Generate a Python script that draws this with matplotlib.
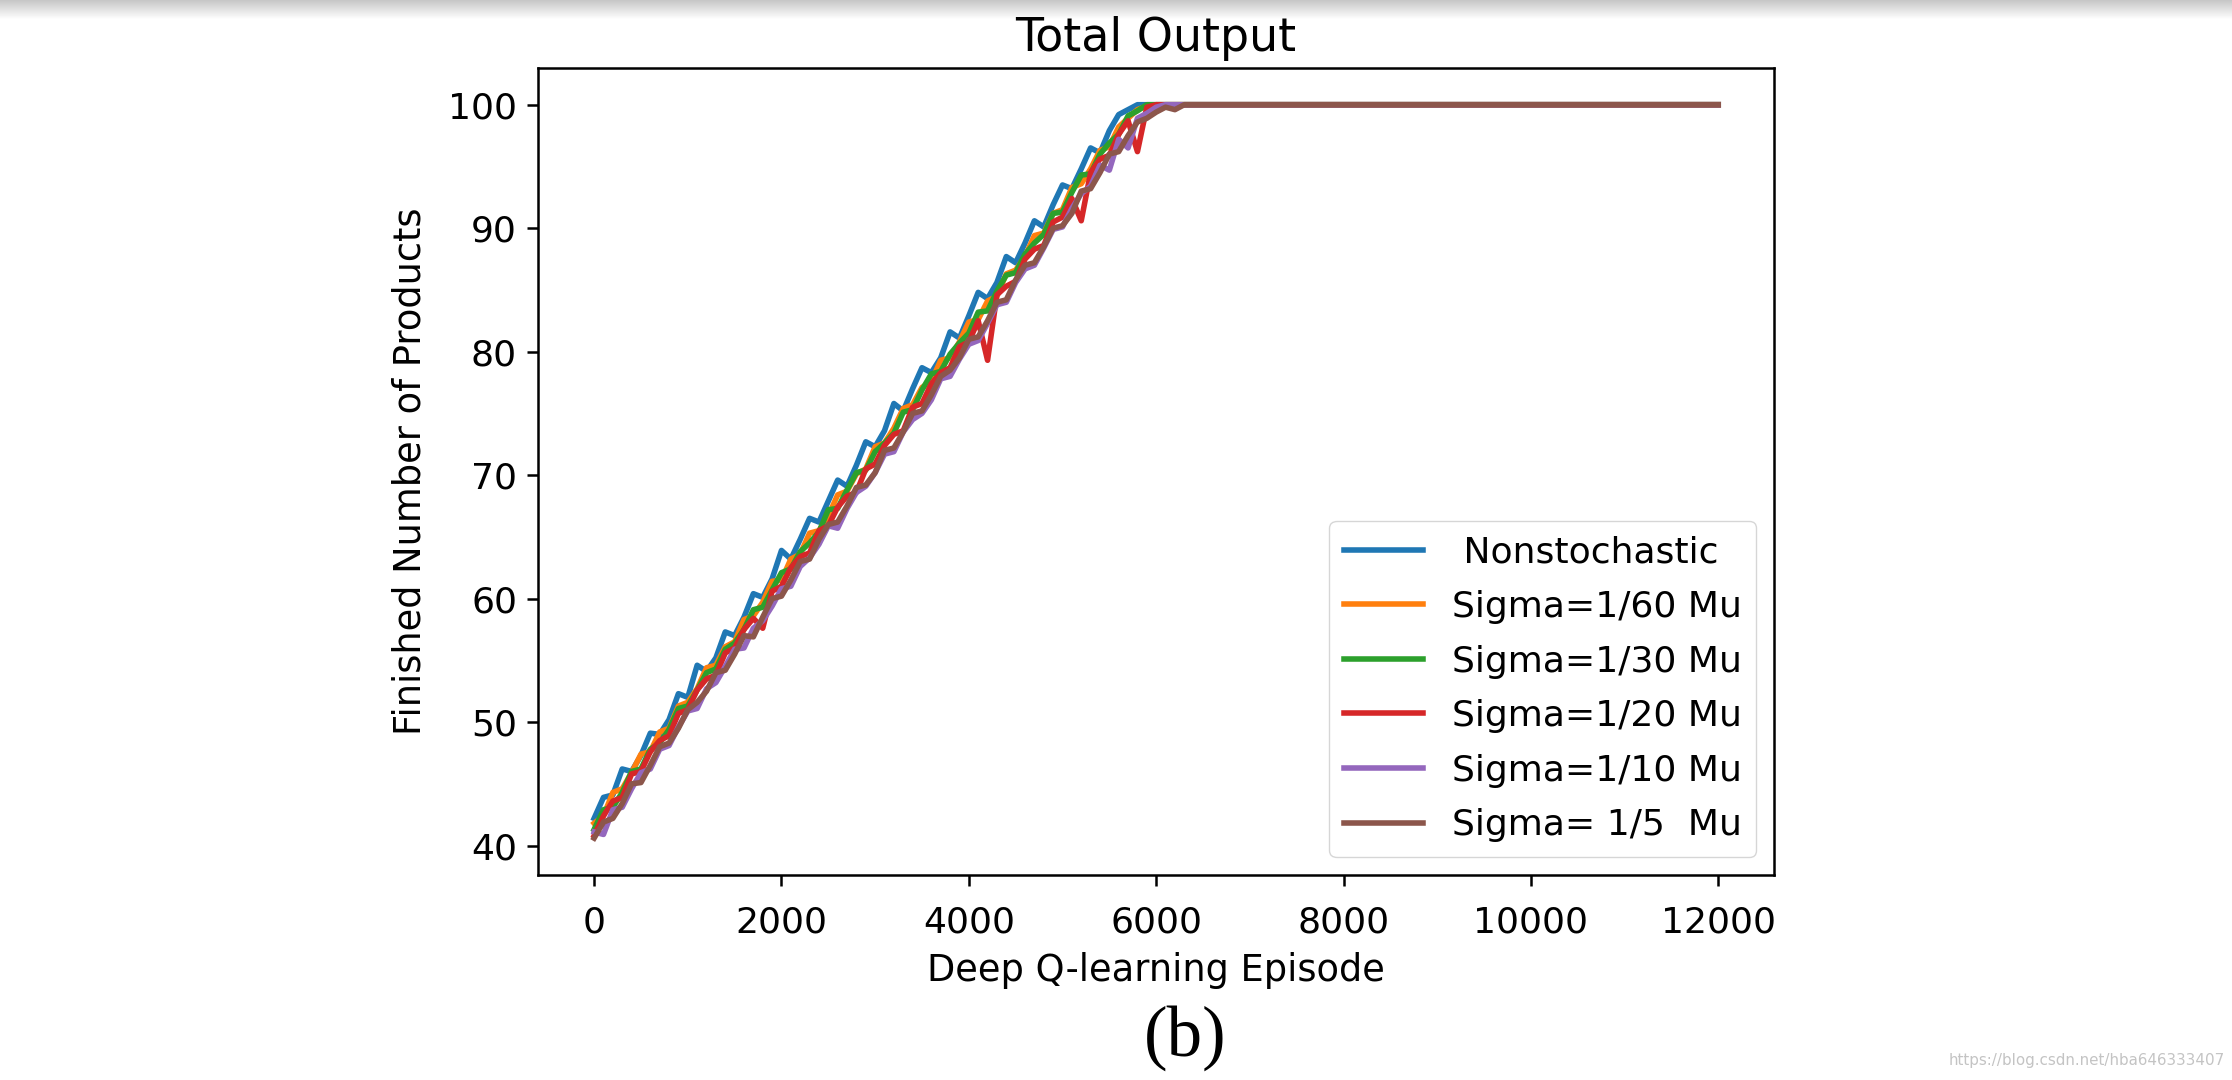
import numpy as np
import matplotlib
matplotlib.use('Agg')
import matplotlib.pyplot as plt

# episodes sampled every 100 up to 6300, then the flat tail to 12000
episodes = [0, 100, 200, 300, 400, 500, 600, 700, 800, 900,
            1000, 1100, 1200, 1300, 1400, 1500, 1600, 1700, 1800, 1900,
            2000, 2100, 2200, 2300, 2400, 2500, 2600, 2700, 2800, 2900,
            3000, 3100, 3200, 3300, 3400, 3500, 3600, 3700, 3800, 3900,
            4000, 4100, 4200, 4300, 4400, 4500, 4600, 4700, 4800, 4900,
            5000, 5100, 5200, 5300, 5400, 5500, 5600, 5700, 5800, 5900,
            6000, 6100, 6200, 6300, 12000]

nonstochastic = [42.2, 43.9, 44.1, 46.2, 46.0, 47.3, 49.1, 49.0, 50.2, 52.3,
                 52.0, 54.6, 54.1, 55.2, 57.3, 57.0, 58.5, 60.4, 60.1, 61.6,
                 63.9, 63.2, 64.8, 66.5, 66.2, 67.9, 69.6, 69.1, 70.8, 72.7,
                 72.3, 73.6, 75.8, 75.2, 77.0, 78.7, 78.3, 79.5, 81.6, 81.1,
                 82.9, 84.8, 84.3, 85.6, 87.7, 87.2, 88.8, 90.6, 90.1, 91.9,
                 93.5, 93.2, 94.8, 96.5, 96.1, 97.9, 99.2, 99.6, 100, 100,
                 100, 100, 100, 100, 100]
sigma_60 = [41.8, 42.4, 44.3, 44.6, 45.9, 47.4, 47.6, 49.2, 49.5, 51.3,
            51.6, 52.7, 54.4, 54.6, 56.1, 56.5, 58.3, 58.6, 59.7, 61.4,
            61.5, 63.2, 63.6, 65.3, 65.5, 66.7, 68.4, 68.7, 70.1, 70.5,
            72.3, 72.6, 73.8, 75.4, 75.7, 77.1, 77.6, 79.3, 79.5, 80.8,
            82.4, 82.6, 84.1, 84.5, 86.3, 86.6, 87.7, 89.4, 89.6, 91.2,
            91.5, 93.3, 93.6, 94.8, 96.3, 96.6, 98.2, 98.9, 99.6, 99.9,
            100, 100, 100, 100, 100]
sigma_30 = [41.3, 42.9, 43.1, 44.3, 46.0, 46.2, 47.8, 48.3, 49.4, 51.1,
            51.3, 52.6, 54.0, 54.3, 55.9, 56.4, 57.5, 59.1, 59.3, 60.7,
            62.1, 62.4, 63.8, 64.5, 65.4, 67.2, 67.3, 68.8, 70.2, 70.4,
            71.9, 72.6, 73.4, 75.1, 75.3, 76.9, 78.2, 78.4, 79.8, 80.7,
            81.5, 83.2, 83.3, 84.9, 86.2, 86.4, 87.9, 88.8, 89.5, 91.2,
            91.3, 92.9, 94.3, 94.4, 96.0, 96.9, 97.6, 99.1, 99.5, 100,
            100, 100, 100, 100, 100]
sigma_20 = [40.8, 42.4, 43.6, 43.9, 45.8, 46.0, 47.6, 48.5, 48.9, 50.7,
            51.0, 52.6, 53.5, 53.8, 55.6, 56.0, 57.5, 58.4, 57.6, 60.6,
            61.0, 62.5, 63.4, 63.7, 65.5, 65.9, 67.4, 68.3, 68.6, 70.5,
            70.9, 72.4, 73.3, 73.6, 75.5, 75.8, 77.4, 78.3, 78.7, 80.4,
            80.8, 82.5, 79.3, 84.6, 85.3, 85.7, 87.5, 88.3, 88.6, 90.5,
            90.9, 92.4, 90.6, 94.5, 95.6, 95.9, 97.6, 98.7, 96.2, 99.8,
            100, 100, 100, 100, 100]
sigma_10 = [41.1, 40.9, 42.9, 43.1, 44.6, 45.9, 46.2, 47.8, 48.1, 49.6,
            50.9, 51.1, 52.7, 53.2, 54.5, 55.9, 56.0, 57.6, 58.2, 59.4,
            60.8, 61.0, 62.6, 63.3, 64.4, 65.9, 65.7, 67.3, 68.6, 69.1,
            70.2, 71.7, 71.9, 73.5, 74.5, 75.0, 76.1, 77.8, 78.0, 79.4,
            80.6, 80.9, 82.3, 83.8, 84.0, 85.6, 86.7, 87.0, 88.4, 89.9,
            90.1, 91.6, 92.8, 93.4, 95.1, 94.7, 97.2, 96.5, 98.9, 99.3,
            99.8, 100, 100, 100, 100]
sigma_5 = [40.6, 41.9, 42.2, 43.4, 45.0, 45.1, 46.5, 48.0, 48.3, 49.5,
           51.0, 51.6, 52.5, 54.0, 54.2, 55.5, 57.0, 56.9, 58.5, 60.0,
           60.2, 61.5, 63.0, 63.2, 64.8, 66.0, 66.2, 67.5, 69.0, 69.2,
           70.2, 72.0, 72.2, 73.5, 75.0, 75.2, 76.5, 78.0, 78.5, 79.5,
           81.0, 81.2, 82.5, 84.0, 84.2, 85.8, 87.0, 87.2, 88.5, 90.0,
           90.2, 91.2, 93.0, 93.2, 94.5, 96.0, 96.2, 97.5, 98.6, 98.9,
           99.4, 99.8, 99.6, 100, 100]

series = [nonstochastic, sigma_60, sigma_30, sigma_20, sigma_10, sigma_5]
labels = [' Nonstochastic', 'Sigma=1/60 Mu', 'Sigma=1/30 Mu',
          'Sigma=1/20 Mu', 'Sigma=1/10 Mu', 'Sigma= 1/5  Mu']

plt.rcParams['font.family'] = 'DejaVu Sans'

fig = plt.figure(figsize=(22.32, 10.8), dpi=100)

# grey shadow band along the top edge
band = fig.add_axes([0, 1 - 20 / 1080, 1, 20 / 1080])
band.imshow(np.linspace(0.78, 1.0, 20).reshape(-1, 1), cmap='gray', vmin=0, vmax=1,
            aspect='auto', extent=[0, 1, 0, 1])
band.axis('off')

ax = fig.add_axes([0.241, 0.190, 0.554, 0.747])
for vals, lab in zip(series, labels):
    ax.plot(episodes, vals, linewidth=4, label=lab)

ax.set_title('Total Output', fontsize=33, pad=12)
ax.set_xlabel('Deep Q-learning Episode', fontsize=26.5, labelpad=9)
ax.set_ylabel('Finished Number of Products', fontsize=26.5, labelpad=14)
ax.set_xticks([0, 2000, 4000, 6000, 8000, 10000, 12000])
ax.set_yticks([40, 50, 60, 70, 80, 90, 100])
ax.tick_params(labelsize=26, length=8, width=1.8)
ax.tick_params(axis='x', pad=14)
ax.tick_params(axis='y', pad=7)
for sp in ax.spines.values():
    sp.set_linewidth(1.8)

leg = ax.legend(loc='lower right', fontsize=26, handlelength=2.2,
                labelspacing=0.57, borderaxespad=0.5)
for line in leg.get_lines():
    line.set_linewidth(4)

fig.text(0.531, 0.039, '(b)', fontsize=51, family='Liberation Serif',
         ha='center', va='center')
fig.text(0.997, 0.018, 'https://blog.csdn.net/hba646333407', fontsize=10.9,
         color='#c4c4c4', ha='right', va='center')

fig.savefig('out.png', dpi=100)
plt.close(fig)
